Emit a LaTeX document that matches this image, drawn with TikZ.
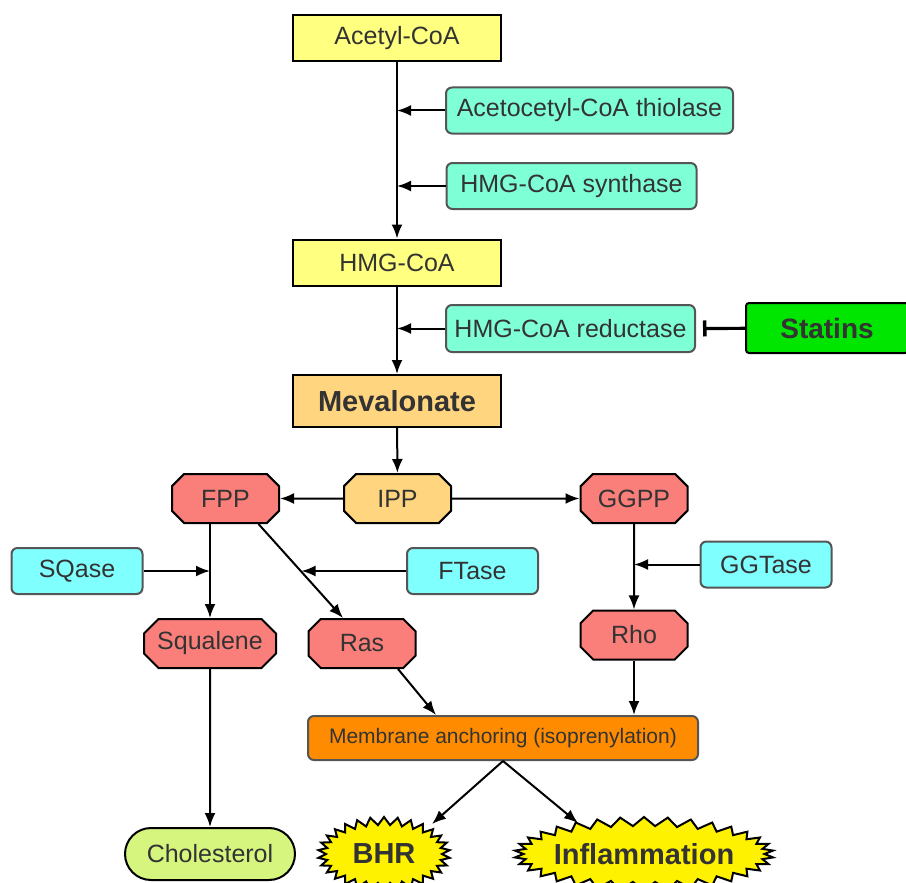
\documentclass[tikz,border=0pt]{standalone}
\usepackage{fontspec}
\setmainfont{Liberation Sans}
\usetikzlibrary{shapes.misc,shapes.symbols,arrows.meta,calc}
\definecolor{txt}{HTML}{333333}
\definecolor{yel}{HTML}{FFFF80}
\definecolor{aqua}{HTML}{7FFFD6}
\definecolor{orgl}{HTML}{FFD580}
\definecolor{salmon}{HTML}{FA7F7A}
\definecolor{cyn}{HTML}{80FFFF}
\definecolor{grn}{HTML}{00E600}
\definecolor{orng}{HTML}{FF8C00}
\definecolor{lime}{HTML}{D5F57F}
\definecolor{bordgray}{HTML}{555555}
\begin{document}
\begin{tikzpicture}[x=1pt,y=-1pt,
 base/.style={draw=black, line width=2pt, text=txt, font=\fontsize{25}{30}\selectfont, inner sep=0pt, align=center},
 ybox/.style={base, rectangle, fill=yel, minimum width=208pt, minimum height=46pt},
 enz/.style={base, draw=bordgray, rounded corners=6pt, fill=aqua, minimum height=46pt},
 cyanbox/.style={enz, fill=cyn, minimum width=131pt},
 oct/.style={base, chamfered rectangle, chamfered rectangle xsep=11pt, fill=salmon, minimum width=107pt, minimum height=49pt},
 arr/.style={line width=2pt, -{Latex[length=14pt,width=11pt]}},
 inhib/.style={line width=3.2pt, -{Bar[width=16pt,line width=3.5pt]}},
 burst/.style={base, starburst, fill=yellow, random starburst=0, starburst points=30, starburst point height=8pt, font=\fontsize{29}{34}\selectfont\bfseries}
]
\useasboundingbox (0,0) rectangle (906,883);
\node[ybox] (acetyl) at (397,38.5) {Acetyl-CoA};
\node[enz, minimum width=287pt] (thio) at (589.5,110.5) {Acetocetyl-CoA thiolase};
\node[enz, minimum width=250pt] (synth) at (571.5,186) {HMG-CoA synthase};
\node[ybox] (hmg) at (397,262.5) {HMG-CoA};
\node[enz, minimum width=249pt, minimum height=47pt] (red) at (570.5,328.5) {HMG-CoA reductase};
\node[base, fill=grn, rounded corners=3pt, minimum width=162pt, minimum height=50pt, font=\fontsize{28}{33}\selectfont\bfseries] (statins) at (827,328) {Statins};
\node[ybox, fill=orgl, minimum height=52pt, font=\fontsize{29}{34}\selectfont\bfseries] (meva) at (397,401) {Mevalonate};
\node[oct, fill=orgl] (ipp) at (397.5,498.5) {IPP};
\node[oct] (fpp) at (225.5,498.5) {FPP};
\node[oct] (ggpp) at (634,498.5) {GGPP};
\node[cyanbox] (sqase) at (77,571) {SQase};
\node[cyanbox] (ftase) at (472.5,571) {FTase};
\node[cyanbox] (ggtase) at (766,564.5) {GGTase};
\node[oct, minimum width=132pt] (squal) at (210,643.5) {Squalene};
\node[oct] (ras) at (362,643.5) {Ras};
\node[oct] (rho) at (634,635) {Rho};
\node[base, fill=orng, rounded corners=6pt, draw=bordgray, minimum width=390pt, minimum height=44pt, font=\fontsize{21}{25}\selectfont] (memb) at (503,738) {Membrane anchoring (isoprenylation)};
\node[base, fill=lime, rounded corners=26pt, minimum width=170pt, minimum height=52pt] (chol) at (210,854) {Cholesterol};
\node[burst, minimum width=132pt, minimum height=74pt] (bhr) at (384,854) {BHR};
\node[burst, minimum height=74pt, inner xsep=-5pt, starburst points=34, starburst point height=9pt] (infl) at (644,854) {Inflammation};
% junctions
\coordinate (j1) at (397,110.5);
\coordinate (j2) at (397,186);
\coordinate (j3) at (397,328.5);
\coordinate (j4) at (210,571);
\coordinate (j5) at (301.5,571);
\coordinate (j6) at (634,564.5);
% connectors
\draw[arr] (acetyl) -- (hmg);
\draw[arr] (thio) -- (j1);
\draw[arr] (synth) -- (j2);
\draw[arr] (hmg) -- (meva);
\draw[arr] (red) -- (j3);
\draw[inhib] (statins) -- ([xshift=7pt]red.east);
\draw[arr] (meva) -- (ipp);
\draw[arr] (ipp) -- (fpp);
\draw[arr] (ipp) -- (ggpp);
\draw[arr] (fpp.south -| squal.north) -- (squal.north);
\draw[arr] (sqase) -- (j4);
\draw[arr] ([xshift=33pt]fpp.south) -- ([xshift=-19pt]ras.north);
\draw[arr] (ftase) -- (j5);
\draw[arr] (ggpp) -- (rho);
\draw[arr] (ggtase) -- (j6);
\draw[arr] ([xshift=36pt]ras.south) -- ([xshift=-67pt]memb.north);
\draw[arr] (rho) -- (rho |- memb.north);
\draw[arr] (squal) -- (chol);
\draw[arr] (memb.south) -- ($(bhr.center)+(48,-30)$);
\draw[arr] (memb.south) -- ($(infl.center)+(-66,-31)$);
\end{tikzpicture}
\end{document}
